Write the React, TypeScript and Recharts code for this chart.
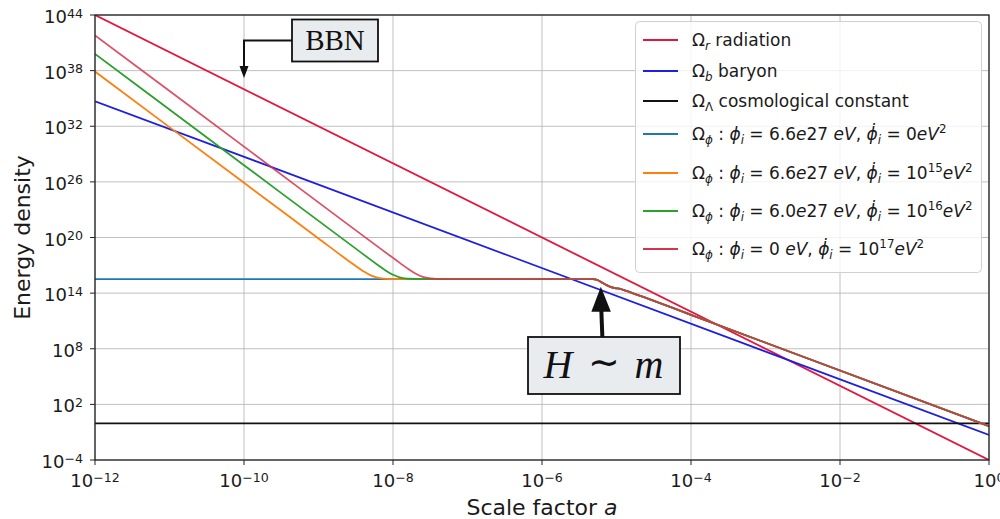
import React from 'react';
import { LineChart, Line, XAxis, YAxis, CartesianGrid } from 'recharts';

// every series is stored as log10(a) / log10(rho) pairs
const radiationLogA = [-12, 0];
const radiationLogRho = [44, -4];

const baryonLogA = [-12, 0];
const baryonLogRho = [34.7, -1.3];

const lambdaLogA = [-12, 0];
const lambdaLogRho = [-0.05, -0.05];

// once H ~ m the field starts oscillating and all four runs sit on top of each other
const tailLogA = [-5.32, -5.26, -5.19, -5.09, -5.02, -4.95, -4.89, -4.0, 0];
const tailLogRho = [15.5, 15.42, 15.12, 14.71, 14.54, 14.46, 14.3, 11.66, -0.35];

const frozenLogA = [-12];
const frozenLogRho = [15.5];

const kick15LogA = [-12, -10, -9, -8.6, -8.4, -8.3, -8.2, -8.1, -8.0, -7.8];
const kick15LogRho = [37.9, 25.9, 19.9, 17.5, 16.37, 15.91, 15.65, 15.54, 15.51, 15.5];

const kick16LogA = [-12, -10, -8.5, -8.2, -8.1, -8.0, -7.9, -7.8, -7.6];
const kick16LogRho = [39.8, 27.8, 18.8, 17.01, 16.45, 15.98, 15.68, 15.55, 15.5];

const kick17LogA = [-12, -10, -8.0, -7.9, -7.8, -7.7, -7.6, -7.5, -7.4, -7.2];
const kick17LogRho = [41.8, 29.8, 17.8, 17.21, 16.63, 16.12, 15.75, 15.58, 15.52, 15.5];

const xTicks = [1e-12, 1e-10, 1e-8, 1e-6, 1e-4, 1e-2, 1];
const yTicks = [1e-4, 1e2, 1e8, 1e14, 1e20, 1e26, 1e32, 1e38, 1e44];

// plot rectangle on the page
const PLOT = { left: 95, right: 989, top: 15, bottom: 460 };
const xs = (la: number) => PLOT.left + ((la + 12) / 12) * (PLOT.right - PLOT.left);
const ys = (lr: number) => PLOT.bottom - ((lr + 4) / 48) * (PLOT.bottom - PLOT.top);

const toPoints = (la: number[], lr: number[]) =>
  la.map((v, i) => ({ a: 10 ** v, rho: 10 ** lr[i] }));

const withTail = (la: number[], lr: number[]) => toPoints([...la, ...tailLogA], [...lr, ...tailLogRho]);

type Seg = { t: string; s?: 'sub' | 'sup'; i?: boolean };

const series = [
  { key: 'rad', color: '#e3173e', data: toPoints(radiationLogA, radiationLogRho), curve: 'linear' },
  { key: 'bar', color: '#1f1fe0', data: toPoints(baryonLogA, baryonLogRho), curve: 'linear' },
  { key: 'lam', color: '#111111', data: toPoints(lambdaLogA, lambdaLogRho), curve: 'linear' },
  { key: 'phi0', color: '#1f77b4', data: withTail(frozenLogA, frozenLogRho), curve: 'monotone' },
  { key: 'phi15', color: '#ff7f0e', data: withTail(kick15LogA, kick15LogRho), curve: 'monotone' },
  { key: 'phi16', color: '#2ca02c', data: withTail(kick16LogA, kick16LogRho), curve: 'monotone' },
  { key: 'phi17', color: '#d6334d', data: withTail(kick17LogA, kick17LogRho), curve: 'monotone', opacity: 0.85 },
];

const phiHead: Seg[] = [{ t: 'Ω' }, { t: 'ϕ', s: 'sub', i: true }, { t: ' : ' }, { t: 'ϕ', i: true }, { t: 'i', s: 'sub', i: true }];
const phiDot: Seg[] = [{ t: ', ' }, { t: 'ϕ̇', i: true }, { t: 'i', s: 'sub', i: true }];

const legendRows: { color: string; y: number; segs: Seg[] }[] = [
  { color: '#e3173e', y: 46, segs: [{ t: 'Ω' }, { t: 'r', s: 'sub', i: true }, { t: ' radiation' }] },
  { color: '#1f1fe0', y: 77, segs: [{ t: 'Ω' }, { t: 'b', s: 'sub', i: true }, { t: ' baryon' }] },
  { color: '#111111', y: 107, segs: [{ t: 'Ω' }, { t: 'Λ', s: 'sub' }, { t: ' cosmological constant' }] },
  {
    color: '#1f77b4', y: 140,
    segs: [...phiHead, { t: ' = 6.6' }, { t: 'e', i: true }, { t: '27 ' }, { t: 'eV', i: true }, ...phiDot, { t: ' = 0' }, { t: 'eV', i: true }, { t: '2', s: 'sup' }],
  },
  {
    color: '#ff7f0e', y: 179,
    segs: [...phiHead, { t: ' = 6.6' }, { t: 'e', i: true }, { t: '27 ' }, { t: 'eV', i: true }, ...phiDot, { t: ' = 10' }, { t: '15', s: 'sup' }, { t: 'eV', i: true }, { t: '2', s: 'sup' }],
  },
  {
    color: '#2ca02c', y: 217,
    segs: [...phiHead, { t: ' = 6.0' }, { t: 'e', i: true }, { t: '27 ' }, { t: 'eV', i: true }, ...phiDot, { t: ' = 10' }, { t: '16', s: 'sup' }, { t: 'eV', i: true }, { t: '2', s: 'sup' }],
  },
  {
    color: '#d6334d', y: 255,
    segs: [...phiHead, { t: ' = 0 ' }, { t: 'eV', i: true }, ...phiDot, { t: ' = 10' }, { t: '17', s: 'sup' }, { t: 'eV', i: true }, { t: '2', s: 'sup' }],
  },
];

function RichText({ x, y, segs, size, anchor = 'start', supShift = 0.42 }: {
  x: number; y: number; segs: Seg[]; size: number; anchor?: string; supShift?: number;
}) {
  let cur = 0;
  return (
    <text x={x} y={y} fontSize={size} textAnchor={anchor} fill="#1a1a1a" style={{ whiteSpace: 'pre' }}>
      {segs.map((g, k) => {
        const target = g.s === 'sub' ? size * 0.25 : g.s === 'sup' ? -size * supShift : 0;
        const dy = target - cur;
        cur = target;
        return (
          <tspan key={k} dy={dy} fontSize={g.s ? size * 0.7 : size} fontStyle={g.i ? 'italic' : 'normal'}>
            {g.t}
          </tspan>
        );
      })}
    </text>
  );
}

const expSegs = (v: number): Seg[] => {
  const e = Math.round(Math.log10(v));
  return [{ t: '10' }, { t: e < 0 ? '\u2212' + Math.abs(e) : String(e), s: 'sup' }];
};

const XTick = (p: any) => (
  <RichText x={p.x} y={PLOT.bottom + 27} anchor="middle" size={18} supShift={0.3} segs={expSegs(p.payload.value)} />
);

const YTick = (p: any) => (
  <RichText x={PLOT.left - 12} y={p.y + 8} anchor="end" size={18} supShift={0.3} segs={expSegs(p.payload.value)} />
);

function Overlay() {
  const bbnTip = { x: xs(-10), y: ys(37.2) };
  const hmTip = { x: xs(-5.21), y: ys(14.7) };
  return (
    <svg width={1000} height={519} style={{ position: 'absolute', left: 0, top: 0, pointerEvents: 'none' }} fontFamily="DejaVu Sans">
      <rect x={PLOT.left} y={PLOT.top} width={PLOT.right - PLOT.left} height={PLOT.bottom - PLOT.top} fill="none" stroke="#222" strokeWidth={1.3} />

      {/* legend */}
      <rect x={635.5} y={21.5} width={346} height={251} rx={4} fill="#fff" fillOpacity={0.8} stroke="#d0d0d0" />
      {legendRows.map((r) => (
        <g key={r.y}>
          <line x1={643} x2={678} y1={r.y - 6} y2={r.y - 6} stroke={r.color} strokeWidth={1.8} />
          <RichText x={692} y={r.y} size={17} segs={r.segs} />
        </g>
      ))}

      {/* BBN marker */}
      <polyline points={`292,${40.5} ${bbnTip.x},${40.5} ${bbnTip.x},${bbnTip.y - 10}`} fill="none" stroke="#111" strokeWidth={2} />
      <polygon points={`${bbnTip.x - 4.5},${bbnTip.y - 12} ${bbnTip.x + 4.5},${bbnTip.y - 12} ${bbnTip.x},${bbnTip.y}`} fill="#111" />
      <rect x={292} y={19.5} width={86} height={42} fill="#e9ecef" stroke="#111" strokeWidth={1.8} />
      <text x={335} y={50} fontSize={29} textAnchor="middle" fontFamily="Liberation Serif" fill="#111">BBN</text>

      {/* H ~ m marker */}
      <polygon points={`${hmTip.x - 1.5},${hmTip.y + 24} ${hmTip.x + 2.5},${hmTip.y + 24} ${hmTip.x + 3.5},337 ${hmTip.x - 0.5},337`} fill="#111" />
      <polygon points={`${hmTip.x - 9.5},${hmTip.y + 25} ${hmTip.x + 10},${hmTip.y + 25} ${hmTip.x},${hmTip.y}`} fill="#111" />
      <rect x={528} y={337} width={152} height={57} fill="#e9ecef" stroke="#111" strokeWidth={1.8} />
      <text y={378} fontSize={40} fontFamily="Liberation Serif" fontStyle="italic" fill="#111" textAnchor="middle">
        <tspan x={558}>H</tspan>
        <tspan x={604} dy={-3} fontStyle="normal" fontFamily="DejaVu Sans" fontSize={38}>∼</tspan>
        <tspan x={649} dy={3}>m</tspan>
      </text>

      {/* axis titles */}
      <text x={22} y={237.5} fontSize={22} fill="#1a1a1a" textAnchor="middle" dominantBaseline="central" transform="rotate(-90 22 237.5)">
        Energy density
      </text>
      <text x={542} y={515} fontSize={22} fill="#1a1a1a" textAnchor="middle" style={{ whiteSpace: 'pre' }}>
        Scale factor <tspan fontStyle="italic">a</tspan>
      </text>
    </svg>
  );
}

export default function App() {
  return (
    <div style={{ position: 'absolute', left: 0, top: 0, width: 1000, height: 519, background: '#fff', overflow: 'hidden', fontFamily: 'DejaVu Sans' }}>
      <LineChart width={1000} height={519} margin={{ top: 15, right: 11, bottom: 19, left: 15 }}>
        <CartesianGrid stroke="#b0b0b0" strokeWidth={0.8} />
        <XAxis
          dataKey="a"
          type="number"
          scale="log"
          domain={[1e-12, 1]}
          ticks={xTicks}
          interval={0}
          allowDataOverflow
          height={40}
          axisLine={false}
          tickLine={{ stroke: '#222' }}
          tickSize={5}
          tick={(p: any) => <XTick {...p} />}
        />
        <YAxis
          type="number"
          scale="log"
          domain={[1e-4, 1e44]}
          ticks={yTicks}
          interval={0}
          allowDataOverflow
          width={80}
          axisLine={false}
          tickLine={{ stroke: '#222' }}
          tickSize={5}
          tick={(p: any) => <YTick {...p} />}
        />
        {series.map((s) => (
          <Line
            key={s.key}
            data={s.data}
            dataKey="rho"
            type={s.curve as any}
            stroke={s.color}
            strokeOpacity={s.opacity ?? 1}
            strokeWidth={1.8}
            dot={false}
            activeDot={false}
            isAnimationActive={false}
          />
        ))}
      </LineChart>
      <Overlay />
    </div>
  );
}
